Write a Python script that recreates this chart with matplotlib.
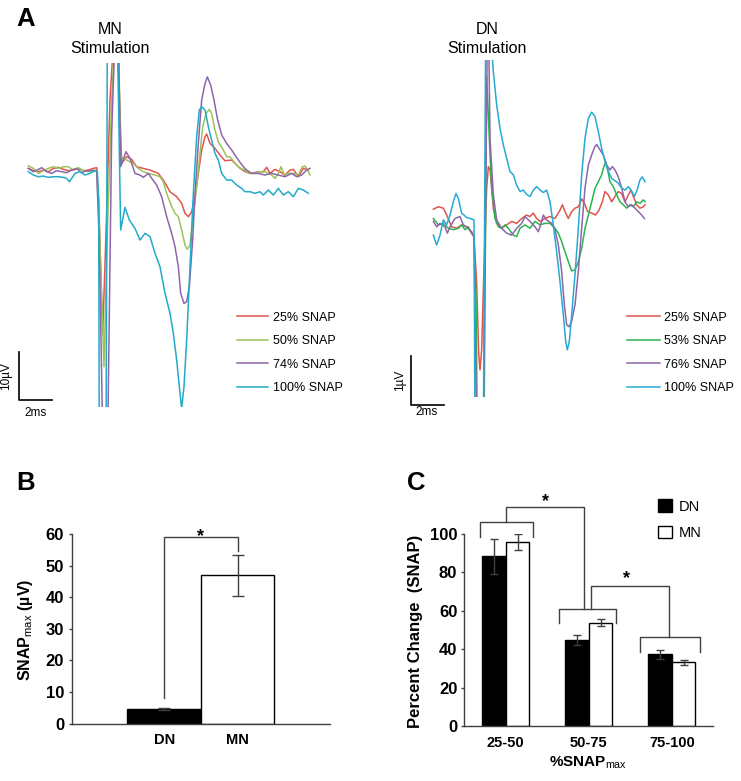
import matplotlib
matplotlib.use('Agg')
import matplotlib.pyplot as plt
import numpy as np

plt.rcParams['font.family'] = ['Liberation Sans', 'DejaVu Sans']
plt.rcParams['mathtext.fontset'] = 'custom'
plt.rcParams['mathtext.rm'] = 'Liberation Sans'
plt.rcParams['mathtext.it'] = 'Liberation Sans:italic'
plt.rcParams['mathtext.bf'] = 'Liberation Sans:bold'

# ---------------- DATA ----------------
# Panel A, MN stimulation traces: (time ms, voltage uV)
mn_25 = [(0.02,0.76),(0.32,0.28),(0.62,0.07),(0.92,0.41),(1.22,0.07),(1.52,0.76),(1.82,0.97),(2.12,0.55),
         (2.42,0.28),(2.72,0.41),(3.02,0.76),(3.32,0.28),(3.62,0.41),(3.92,0.76),(4.12,0.90),(4.24,-5.8),
         (4.48,-33.7),(4.68,-12.7),(4.92,14.9),(5.16,28.7),(5.36,28.7),(5.62,1.79),(5.92,3.17),(6.22,2.62),
         (6.52,1.10),(6.92,0.76),(7.32,0.41),(7.82,-0.28),(8.12,-1.66),(8.52,-4.07),(8.92,-5.10),(9.22,-6.48),
         (9.42,-8.55),(9.62,-9.24),(9.82,-8.21),(10.02,-5.10),(10.22,-0.28),(10.42,4.55),(10.62,7.31),
         (10.72,7.86),(10.92,5.93),(11.22,4.90),(11.52,3.52),(11.82,2.34),(12.22,2.48),(12.62,1.10),
         (13.02,0.07),(13.42,-0.28),(13.82,0.07),(14.12,0.07),(14.32,0.97),(14.52,-0.28),(14.82,0.55),
         (15.12,0.07),(15.42,-0.62),(15.72,0.41),(15.92,0.55),(16.22,-0.97),(16.52,0.76),(16.82,0.41)]
mn_50 = [(0.02,1.31),(0.32,0.76),(0.62,-0.28),(0.92,0.28),(1.22,0.76),(1.52,1.10),(1.82,0.76),(2.12,1.10),
         (2.42,1.10),(2.72,0.41),(3.02,0.90),(3.32,0.28),(3.62,0.07),(3.92,0.41),(4.12,0.28),(4.26,-9.24),
         (4.56,-40.3),(4.76,-12.7),(5.02,14.9),(5.22,28.7),(5.42,28.7),(5.56,3.17),(5.92,2.48),(6.32,1.79),
         (6.62,0.76),(6.92,0.07),(7.22,-0.28),(7.62,-0.62),(7.92,-0.97),(8.12,-2.00),(8.32,-4.41),(8.62,-7.17),
         (8.82,-8.55),(9.02,-9.24),(9.22,-12.0),(9.42,-15.1),(9.56,-16.0),(9.72,-15.1),(9.92,-9.24),
         (10.12,-3.03),(10.32,3.86),(10.48,9.38),(10.68,12.1),(10.88,12.97),(11.02,12.1),(11.22,8.69),
         (11.42,6.28),(11.72,4.55),(11.92,3.17),(12.12,3.17),(12.42,1.79),(12.72,0.76),(13.02,0.41),
         (13.22,-0.28),(13.52,-0.28),(13.82,0.07),(14.22,0.07),(14.62,-0.62),(14.82,-1.31),(15.02,-0.28),
         (15.18,1.10),(15.38,-0.62),(15.62,-0.28),(15.92,-0.28),(16.22,-0.62),(16.46,1.10),(16.62,1.24),
         (16.78,0.41),(16.92,-0.62)]
mn_74 = [(0.02,0.76),(0.32,0.07),(0.62,0.55),(0.82,0.90),(1.12,0.07),(1.42,-0.28),(1.72,0.28),(2.02,0.07),
         (2.32,-0.14),(2.62,0.41),(2.92,0.76),(3.22,-0.14),(3.52,0.28),(3.82,0.28),(4.12,0.28),(4.26,-12.7),
         (4.52,-61.0),(4.76,-61.0),(5.02,8.0),(5.22,28.7),(5.42,28.7),(5.56,1.10),(5.88,4.21),(6.12,2.83),
         (6.42,-0.28),(6.72,-0.62),(6.92,-1.10),(7.22,-0.28),(7.42,-1.31),(7.72,-2.69),(8.02,-5.10),
         (8.32,-9.24),(8.62,-12.69),(8.82,-15.45),(9.02,-19.59),(9.16,-25.1),(9.36,-27.2),(9.52,-26.8),
         (9.68,-23.7),(9.88,-14.1),(10.02,-4.41),(10.22,5.93),(10.42,14.9),(10.62,18.3),(10.76,19.7),
         (10.96,18.0),(11.16,14.9),(11.36,11.1),(11.62,7.66),(11.92,5.93),(12.22,4.55),(12.62,2.48),
         (12.92,1.10),(13.12,0.41),(13.42,-0.28),(13.82,-0.28),(14.22,-0.62),(14.62,-0.28),(15.02,-0.62),
         (15.42,-0.97),(15.82,-0.28),(16.12,-0.97),(16.42,-0.62),(16.72,0.41),(16.92,0.76)]
mn_100 = [(0.02,0.07),(0.32,-0.62),(0.62,-0.97),(0.92,-0.83),(1.22,-1.10),(1.52,-0.97),(1.82,-0.97),
          (2.12,-1.10),(2.32,-1.31),(2.48,-2.00),(2.62,-1.31),(2.82,-0.28),(3.12,0.07),(3.42,-0.62),
          (3.72,-0.28),(4.02,0.28),(4.16,0.07),(4.24,-5.79),(4.28,-61.0),(4.68,-61.0),(4.76,28.7),(5.36,28.7),
          (5.56,-12.0),(5.82,-7.31),(6.08,-9.93),(6.42,-11.66),(6.72,-14.07),(7.02,-12.69),(7.32,-13.38),
          (7.62,-16.83),(7.92,-19.59),(8.22,-25.1),(8.52,-29.2),(8.72,-33.4),(8.92,-38.9),(9.12,-45.8),
          (9.22,-48.9),(9.36,-44.4),(9.52,-34.8),(9.72,-19.59),(9.92,-4.41),(10.12,7.31),(10.28,12.83),
          (10.42,13.52),(10.62,12.83),(10.82,9.38),(11.02,6.62),(11.22,3.86),(11.42,2.48),(11.62,-0.28),
          (11.92,-1.66),(12.22,-1.66),(12.52,-2.69),(12.82,-3.38),(13.02,-4.07),(13.32,-4.07),(13.62,-4.41),
          (13.92,-4.07),(14.12,-4.76),(14.42,-3.72),(14.72,-4.76),(15.02,-3.38),(15.32,-4.76),(15.62,-4.07),
          (15.92,-5.10),(16.22,-3.38),(16.52,-3.72),(16.82,-4.41)]
mn_labels = ['25% SNAP', '50% SNAP', '74% SNAP', '100% SNAP']

# Panel A, DN stimulation traces: (time ms, voltage uV)
dn_25 = [(0.00,0.22),(0.30,0.27),(0.60,0.24),(0.80,0.10),(1.10,-0.14),(1.40,-0.17),(1.70,-0.10),(2.00,-0.14),
         (2.30,-0.24),(2.44,-0.34),(2.60,-1.29),(2.72,-2.72),(2.80,-3.06),(2.90,-2.65),(3.04,-0.95),(3.20,0.65),
         (3.30,1.09),(3.40,1.02),(3.50,0.65),(3.60,0.24),(3.80,-0.07),(4.10,-0.17),(4.40,-0.10),(4.70,-0.03),
         (5.00,-0.07),(5.30,0.03),(5.60,0.10),(5.80,0.07),(6.00,0.14),(6.20,0.03),(6.40,-0.03),(6.70,0.03),
         (7.00,0.07),(7.30,0.03),(7.60,0.20),(7.74,0.31),(7.90,0.17),(8.10,0.03),(8.30,0.17),(8.50,0.24),
         (8.70,0.27),(8.90,0.43),(9.06,0.34),(9.26,0.17),(9.50,0.14),(9.74,0.10),(9.94,0.20),(10.14,0.37),
         (10.30,0.58),(10.50,0.51),(10.70,0.37),(10.90,0.48),(11.10,0.58),(11.30,0.54),(11.50,0.37),
         (11.70,0.51),(11.86,0.61),(12.00,0.48),(12.20,0.31),(12.40,0.24),(12.60,0.27),(12.70,0.31)]
dn_53 = [(0.00,0.03),(0.30,-0.10),(0.60,-0.07),(0.90,-0.17),(1.20,-0.20),(1.50,-0.17),(1.70,-0.10),(1.90,-0.20),
         (2.10,-0.14),(2.30,-0.27),(2.44,-0.34),(2.56,-1.63),(2.64,-4.35),(3.04,-4.35),(3.20,2.93),(3.40,1.33),
         (3.50,0.65),(3.70,0.03),(3.90,-0.14),(4.10,-0.17),(4.30,-0.10),(4.50,-0.17),(4.80,-0.31),(5.00,-0.34),
         (5.20,-0.17),(5.50,-0.10),(5.80,-0.17),(6.10,-0.03),(6.40,-0.10),(6.70,-0.07),(7.00,-0.07),(7.30,-0.17),
         (7.50,-0.27),(7.70,-0.44),(7.90,-0.65),(8.10,-0.85),(8.30,-1.04),(8.50,-1.02),(8.70,-0.85),(8.90,-0.58),
         (9.10,-0.17),(9.30,0.10),(9.50,0.37),(9.70,0.65),(9.90,0.78),(10.10,0.92),(10.26,1.12),(10.34,1.18),
         (10.46,1.02),(10.60,0.78),(10.80,0.68),(11.00,0.51),(11.20,0.37),(11.40,0.31),(11.60,0.24),
         (11.80,0.31),(12.00,0.27),(12.20,0.37),(12.40,0.34),(12.60,0.41),(12.70,0.37)]
dn_76 = [(0.00,-0.03),(0.20,-0.14),(0.40,-0.07),(0.70,-0.14),(0.84,-0.27),(1.00,-0.14),(1.30,0.03),(1.60,0.07),
         (1.80,-0.10),(2.10,-0.17),(2.30,-0.27),(2.44,-0.35),(2.60,-4.35),(3.00,-4.35),(3.24,3.81),(3.32,3.81),
         (3.40,1.67),(3.60,0.51),(3.80,0.00),(4.10,-0.17),(4.40,-0.27),(4.70,-0.31),(5.00,-0.17),(5.30,-0.07),
         (5.50,0.07),(5.80,-0.03),(6.10,-0.14),(6.30,-0.24),(6.50,-0.03),(6.60,0.10),(6.80,0.00),(7.10,-0.07),
         (7.30,-0.20),(7.50,-0.51),(7.70,-1.05),(7.86,-1.73),(8.00,-2.14),(8.14,-2.18),(8.30,-2.07),(8.50,-1.73),
         (8.70,-1.05),(8.90,-0.17),(9.10,0.65),(9.30,1.12),(9.50,1.33),(9.70,1.50),(9.80,1.54),(10.00,1.43),
         (10.20,1.33),(10.40,1.12),(10.60,1.02),(10.74,1.09),(10.90,1.02),(11.10,0.88),(11.30,0.65),
         (11.50,0.37),(11.70,0.27),(11.90,0.31),(12.10,0.24),(12.30,0.17),(12.50,0.10),(12.66,0.03)]
dn_100 = [(0.00,-0.31),(0.20,-0.51),(0.40,-0.31),(0.60,0.00),(0.80,-0.10),(1.00,0.10),(1.20,0.37),(1.36,0.54),
          (1.50,0.44),(1.70,0.14),(2.00,0.05),(2.30,0.02),(2.44,0.00),(2.50,-4.35),(3.00,-4.35),(3.14,3.81),
          (3.44,3.81),(3.60,3.03),(3.80,2.35),(4.00,1.87),(4.20,1.53),(4.40,1.26),(4.60,0.99),(4.80,0.92),
          (5.00,0.71),(5.20,0.58),(5.40,0.61),(5.60,0.52),(5.80,0.48),(6.00,0.61),(6.20,0.68),(6.40,0.61),
          (6.60,0.56),(6.80,0.61),(7.00,0.37),(7.20,-0.10),(7.40,-0.65),(7.60,-1.26),(7.80,-1.94),(7.94,-2.48),
          (8.04,-2.65),(8.16,-2.48),(8.30,-1.94),(8.50,-1.12),(8.70,-0.17),(8.90,0.92),(9.10,1.67),(9.30,2.07),
          (9.50,2.20),(9.70,2.11),(9.90,1.80),(10.10,1.46),(10.30,1.19),(10.50,0.99),(10.70,0.85),(10.90,0.80),
          (11.10,0.75),(11.30,0.65),(11.50,0.61),(11.70,0.68),(11.90,0.59),(12.06,0.48),(12.20,0.58),
          (12.40,0.82),(12.54,0.88),(12.70,0.78)]
dn_labels = ['25% SNAP', '53% SNAP', '76% SNAP', '100% SNAP']

# Panel B
b_groups = ['DN', 'MN']
b_means = [4.7, 46.9]
b_err = [0.3, 6.4]

# Panel C
c_groups = ['25-50', '50-75', '75-100']
c_dn = [88.5, 44.8, 37.3]
c_dn_err = [9.1, 2.8, 2.3]
c_mn = [95.7, 53.8, 33.2]
c_mn_err = [4.2, 1.7, 1.3]

# ---------------- FIGURE ----------------
W, H = 741, 781
fig = plt.figure(figsize=(W / 100, H / 100), dpi=100)


def fx(px):
    return px / W


def fy(py):
    return 1 - py / H


mn_colors = ['#e0554d', '#9cc35a', '#8d66a9', '#22abc9']
dn_colors = ['#e0554d', '#2cb44f', '#8d66a9', '#27a9d3']

# ---- Panel A: MN ----
axm = fig.add_axes([fx(5), fy(407.33), 365 / W, 344 / H])
axm.set_xlim(-1.38, 20.52)
axm.set_ylim(-48.7, 22.5)
axm.axis('off')
mn_lines = []
for tr, c, lab in zip([mn_25, mn_50, mn_74, mn_100], mn_colors, mn_labels):
    t, v = zip(*tr)
    ln, = axm.plot(t, v, color=c, lw=1.1, label=lab)
    mn_lines.append(ln)
axm.plot([-0.54, -0.54, 1.46], [-37.2, -47.2, -47.2], color='black', lw=1.2, clip_on=False)
axm.text(-1.29, -42.2, '10µV', rotation=90, ha='center', va='center', fontsize=8.5, clip_on=False)
axm.text(0.46, -48.6, '2ms', ha='center', va='top', fontsize=8.5, clip_on=False)
axm.legend(handles=mn_lines, loc='upper left', bbox_to_anchor=(fx(237), fy(311.5)),
           bbox_transform=fig.transFigure, frameon=False, fontsize=9, handlelength=2.48,
           handletextpad=0.4, labelspacing=0.93, borderpad=0, borderaxespad=0)

# ---- Panel A: DN ----
axd = fig.add_axes([fx(380), fy(397.3), 361 / W, 337.3 / H])
axd.set_xlim(-3.2, 18.46)
axd.set_ylim(-3.62, 3.265)
axd.axis('off')
dn_lines = []
for tr, c, lab in zip([dn_25, dn_53, dn_76, dn_100], dn_colors, dn_labels):
    t, v = zip(*tr)
    ln, = axd.plot(t, v, color=c, lw=1.1, label=lab)
    dn_lines.append(ln)
axd.plot([-1.36, -1.36, 0.64], [-2.78, -3.78, -3.78], color='black', lw=1.2, clip_on=False)
axd.text(-2.0, -3.27, '1µV', rotation=90, ha='center', va='center', fontsize=8.5, clip_on=False)
axd.text(-0.38, -3.80, '2ms', ha='center', va='top', fontsize=8.5, clip_on=False)
axd.legend(handles=dn_lines, loc='upper left', bbox_to_anchor=(fx(627), fy(311.5)),
           bbox_transform=fig.transFigure, frameon=False, fontsize=9, handlelength=2.6,
           handletextpad=0.35, labelspacing=0.93, borderpad=0, borderaxespad=0)

fig.text(fx(110), fy(34), 'MN', ha='center', va='baseline', fontsize=11.5)
fig.text(fx(110), fy(53.3), 'Stimulation', ha='center', va='baseline', fontsize=11.5)
fig.text(fx(487.3), fy(34), 'DN', ha='center', va='baseline', fontsize=11.5)
fig.text(fx(487.3), fy(53.3), 'Stimulation', ha='center', va='baseline', fontsize=11.5)
fig.text(fx(16.5), fy(25.5), 'A', fontsize=18.5, fontweight='bold', va='baseline')

# ---- Panel B ----
axis_col = '#404040'
axb = fig.add_axes([fx(71.7), fy(723.7), 258.3 / W, 189.7 / H])
xb = np.arange(len(b_groups))
axb.bar(xb, b_means, width=1.0, color=['black', 'white'], edgecolor='black', linewidth=1, zorder=2)
axb.errorbar(xb, b_means, yerr=b_err, fmt='none', ecolor=axis_col, elinewidth=1, capsize=4, zorder=3)
axb.set_xlim(-1.26, 2.26)
axb.set_ylim(0, 60)
axb.set_yticks(range(0, 61, 10))
axb.set_xticks(xb)
axb.set_xticklabels(b_groups, fontweight='bold', fontsize=10.5)
for s in ['top', 'right']:
    axb.spines[s].set_visible(False)
for s in ['left', 'bottom']:
    axb.spines[s].set_color(axis_col)
    axb.spines[s].set_linewidth(1)
axb.tick_params(axis='y', length=2.5, width=1, color=axis_col, pad=3.0, labelsize=12)
axb.tick_params(axis='x', length=0, pad=7)
for lab in axb.get_yticklabels():
    lab.set_fontweight('bold')
axb.plot([0, 0, 1, 1], [8.2, 58.9, 58.9, 54.6], color=axis_col, lw=1, clip_on=False)
axb.text(0.5, 57.8, '*', ha='center', va='baseline', fontsize=13, fontweight='bold', clip_on=False)
fig.text(fx(25.8), fy(630), r'SNAP$_{\mathrm{max}}$ (µV)', rotation=90, ha='center', va='center',
         fontsize=11.5, fontweight='bold')
fig.text(fx(16.5), fy(490.5), 'B', fontsize=18.5, fontweight='bold', va='baseline')

# ---- Panel C ----
axc = fig.add_axes([fx(464.3), fy(726), 249 / W, 192 / H])
xc = np.arange(len(c_groups))
w = 0.285
axc.bar(xc - w / 2, c_dn, w, color='black', edgecolor='black', linewidth=1, label='DN', zorder=2)
axc.bar(xc + w / 2, c_mn, w, color='white', edgecolor='black', linewidth=1, label='MN', zorder=2)
axc.errorbar(xc - w / 2, c_dn, yerr=c_dn_err, fmt='none', ecolor=axis_col, elinewidth=1, capsize=3, zorder=3)
axc.errorbar(xc + w / 2, c_mn, yerr=c_mn_err, fmt='none', ecolor=axis_col, elinewidth=1, capsize=3, zorder=3)
axc.set_xlim(-0.5, 2.5)
axc.set_ylim(0, 100)
axc.set_yticks(range(0, 101, 20))
axc.set_xticks(xc)
axc.set_xticklabels(c_groups, fontweight='bold', fontsize=10.5)
for s in ['top', 'right']:
    axc.spines[s].set_visible(False)
for s in ['left', 'bottom']:
    axc.spines[s].set_color(axis_col)
    axc.spines[s].set_linewidth(1)
axc.tick_params(axis='y', length=2.5, width=1, color=axis_col, pad=2.5, labelsize=12)
axc.tick_params(axis='x', length=0, pad=7)
for lab in axc.get_yticklabels():
    lab.set_fontweight('bold')

# significance brackets
grp_left = [-0.313, 0.638, 1.613]
grp_right = [0.329, 1.332, 2.335]
grp_top = [106.4, 60.8, 46.5]
grp_leg = [98.6, 53.5, 38.7]
for l, r, tp, lg in zip(grp_left, grp_right, grp_top, grp_leg):
    axc.plot([l, l, r, r], [lg, tp, tp, lg], color=axis_col, lw=1, clip_on=False)
axc.plot([0.008, 0.008, 0.943, 0.943], [106.4, 113.9, 113.9, 60.8], color=axis_col, lw=1, clip_on=False)
axc.plot([1.031, 1.031, 1.965, 1.965], [60.8, 73.1, 73.1, 46.5], color=axis_col, lw=1, clip_on=False)
axc.text(0.481, 114.5, '*', ha='center', va='baseline', fontsize=13, fontweight='bold', clip_on=False)
axc.text(1.452, 74.2, '*', ha='center', va='baseline', fontsize=13, fontweight='bold', clip_on=False)

axc.legend(loc='upper left', bbox_to_anchor=(fx(658.3), fy(499.5)), bbox_transform=fig.transFigure,
           frameon=False, fontsize=10.5, handlelength=0.91, handleheight=0.91, handletextpad=0.46,
           labelspacing=0.82, borderpad=0, borderaxespad=0)

fig.text(fx(415.8), fy(631.7), 'Percent Change  (SNAP)', rotation=90, ha='center', va='center',
         fontsize=12, fontweight='bold')
fig.text(fx(588.3), fy(766.7), r'%SNAP$_{\mathrm{max}}$', ha='center', va='baseline',
         fontsize=11, fontweight='bold')
fig.text(fx(407.5), fy(490.5), 'C', fontsize=18.5, fontweight='bold', va='baseline')

fig.savefig('out.png', dpi=100)
